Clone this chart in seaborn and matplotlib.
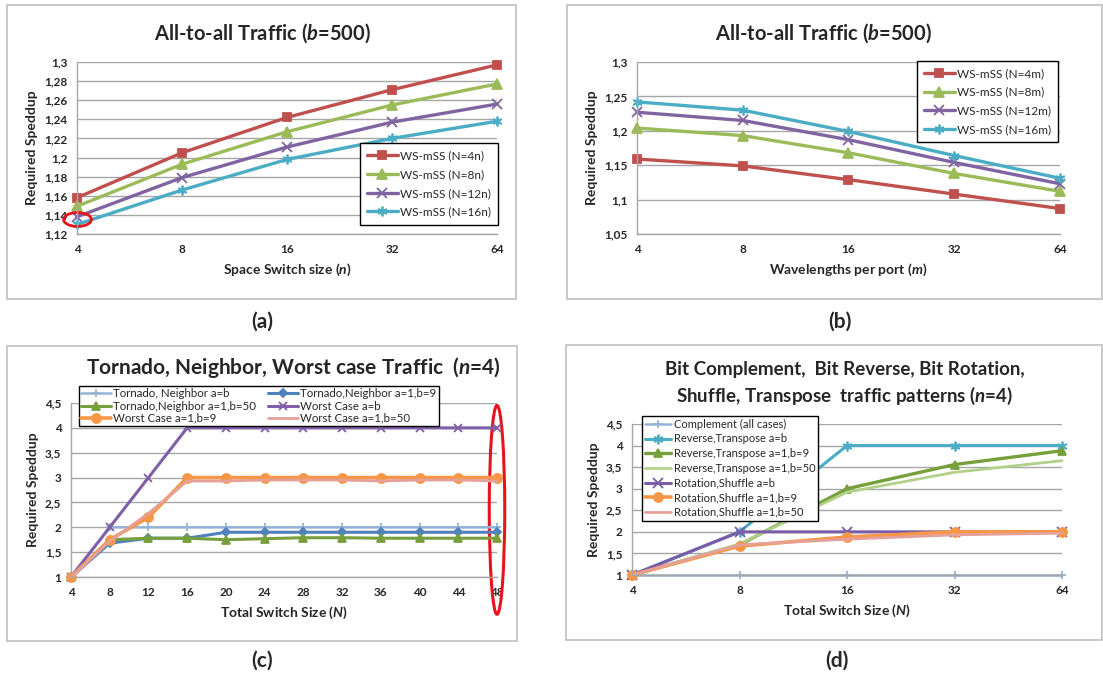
import numpy as np
import matplotlib
matplotlib.use("Agg")
import matplotlib.pyplot as plt
import seaborn as sns
from matplotlib.patches import Ellipse, Rectangle
from matplotlib.path import Path
from matplotlib.transforms import Affine2D
from matplotlib.ticker import FuncFormatter

# ---- data ----
n_sizes = [4, 8, 16, 32, 64]
a_labels = ['WS-mSS (N=4n)', 'WS-mSS (N=8n)', 'WS-mSS (N=12n)', 'WS-mSS (N=16n)']
a_vals = [
    [1.158, 1.205, 1.242, 1.271, 1.297],
    [1.149, 1.193, 1.227, 1.255, 1.277],
    [1.138, 1.179, 1.211, 1.237, 1.256],
    [1.130, 1.166, 1.198, 1.220, 1.238],
]

m_sizes = [4, 8, 16, 32, 64]
b_labels = ['WS-mSS (N=4m)', 'WS-mSS (N=8m)', 'WS-mSS (N=12m)', 'WS-mSS (N=16m)']
b_vals = [
    [1.159, 1.149, 1.129, 1.108, 1.087],
    [1.204, 1.193, 1.168, 1.138, 1.112],
    [1.227, 1.215, 1.187, 1.154, 1.123],
    [1.242, 1.230, 1.199, 1.164, 1.131],
]

c_sizes = [4, 8, 12, 16, 20, 24, 28, 32, 36, 40, 44, 48]
c_labels = ['Tornado, Neighbor a=b', 'Tornado,Neighbor a=1,b=9', 'Tornado,Neighbor a=1,b=50',
            'Worst Case a=b', 'Worst Case a=1,b=9', 'Worst Case a=1,b=50']
c_vals = [
    [1, 2, 2, 2, 2, 2, 2, 2, 2, 2, 2, 2],
    [1, 1.68, 1.78, 1.78, 1.9, 1.9, 1.9, 1.9, 1.9, 1.9, 1.9, 1.9],
    [1, 1.75, 1.78, 1.78, 1.75, 1.77, 1.79, 1.79, 1.78, 1.78, 1.78, 1.78],
    [1, 2, 3, 4, 4, 4, 4, 4, 4, 4, 4, 4],
    [1, 1.75, 2.2, 3, 3, 3, 3, 3, 3, 3, 3, 3],
    [1, 1.72, 2.28, 2.93, 2.93, 2.95, 2.95, 2.95, 2.93, 2.95, 2.95, 2.93],
]

d_sizes = [4, 8, 16, 32, 64]
d_labels = ['Complement (all cases)', 'Reverse,Transpose a=b', 'Reverse,Transpose a=1,b=9',
            'Reverse,Transpose a=1,b=50', 'Rotation,Shuffle a=b', 'Rotation,Shuffle a=1,b=9',
            'Rotation,Shuffle a=1,b=50']
d_vals = [
    [1, 1, 1, 1, 1],
    [1, 2, 4, 4, 4],
    [1, 1.7, 3.0, 3.56, 3.88],
    [1, 1.72, 2.92, 3.38, 3.65],
    [1, 2, 2, 2, 2],
    [1, 1.67, 1.88, 2.0, 2.0],
    [1, 1.7, 1.83, 1.93, 1.97],
]

# ---- style ----
sns.set_style('white')
plt.rcParams['font.family'] = ['Lato', 'DejaVu Sans']
plt.rcParams['font.weight'] = 'bold'
plt.rcParams['mathtext.fontset'] = 'custom'
plt.rcParams['mathtext.it'] = 'Lato:italic:bold'
plt.rcParams['mathtext.rm'] = 'Lato:bold'

W, H = 1103, 675
fig = plt.figure(figsize=(W / 100, H / 100), dpi=100)
fig.patch.set_facecolor('white')

asterisk = (6, 2, 0)
grid_c = '#a6a6a6'
leg_font = {'weight': 'normal'}


def px_axes(l, t, r, b):
    return fig.add_axes([l / W, 1 - b / H, (r - l) / W, (b - t) / H])


def comma(v, pos):
    return ('%g' % round(v, 3)).replace('.', ',')


def style_axes(ax, xlabel, ylabel):
    ax.yaxis.set_major_formatter(FuncFormatter(comma))
    ax.grid(axis='y', color=grid_c, lw=1)
    ax.grid(axis='x', visible=False)
    for s in ['top', 'right']:
        ax.spines[s].set_visible(False)
    for s in ['left', 'bottom']:
        ax.spines[s].set_color(grid_c)
        ax.spines[s].set_linewidth(1)
    ax.tick_params(axis='both', labelsize=8.5, length=3, color=grid_c, pad=4)
    ax.set_xlabel(xlabel, fontsize=10, fontweight='bold', labelpad=5)
    ax.set_ylabel(ylabel, fontsize=10, fontweight='bold', labelpad=4)


def draw(ax, x, ys, labels, colors, markers, lws, mss):
    for y, lab, c, m, lw, ms in zip(ys, labels, colors, markers, lws, mss):
        sns.lineplot(x=x, y=y, ax=ax, color=c, marker=m, lw=lw, ms=ms, mec=c,
                     mew=1.3, label=lab, clip_on=False, legend=False)


# panel frames
for (l, t, r, b) in [(7, 5, 516, 299), (567, 5, 1102, 299), (7, 346, 517, 641), (566, 345, 1102, 640)]:
    fig.add_artist(Rectangle((l / W, 1 - b / H), (r - l) / W, (b - t) / H, transform=fig.transFigure,
                             fill=False, ec='#bfbfbf', lw=1.2))

for txt, x, y in [('(a)', 262, 322), ('(b)', 840, 322), ('(c)', 262, 661), ('(d)', 837, 661)]:
    fig.text(x / W, 1 - y / H, txt, ha='center', va='center', fontsize=15, fontweight='bold')

# ---- (a) ----
ax = px_axes(77, 62, 497, 234)
cols_ab = ['#c0504d', '#9bbb59', '#8064a2', '#4bacc6']
draw(ax, n_sizes, a_vals, a_labels, cols_ab, ['s', '^', 'x', asterisk], [2.4] * 4, [6, 6.5, 6.5, 7])
ax.set_xscale('log', base=2)
ax.set_xlim(4, 64)
ax.set_ylim(1.12, 1.3)
ax.set_yticks(np.arange(1.12, 1.301, 0.02))
ax.set_xticks(n_sizes)
ax.set_xticklabels([str(v) for v in n_sizes])
ax.minorticks_off()
style_axes(ax, 'Space Switch size ($\\mathit{n}$)', 'Required Speddup')
ax.legend(loc='lower right', bbox_to_anchor=(1.017, 0.02), prop=dict(leg_font, size=8.5), frameon=True,
          fancybox=False, edgecolor='black', framealpha=1, handlelength=2.6, labelspacing=0.65,
          borderpad=0.6, handletextpad=0.2)
oval = Path.unit_circle().transformed(Affine2D().scale(1, 0.5))
ax.plot([4], [1.1355], marker=oval, ms=20, mfc='none', mec='#e8141b', mew=2, clip_on=False, ls='none')
fig.text(262 / W, 1 - 33 / H, 'All-to-all Traffic ($\\mathit{b}$=500)', ha='center', va='center',
         fontsize=14.5, fontweight='bold')

# ---- (b) ----
ax = px_axes(637, 62, 1060, 234)
draw(ax, m_sizes, b_vals, b_labels, cols_ab, ['s', '^', 'x', asterisk], [2.4] * 4, [6, 6.5, 6.5, 7])
ax.set_xscale('log', base=2)
ax.set_xlim(4, 64)
ax.set_ylim(1.05, 1.3)
ax.set_yticks(np.arange(1.05, 1.301, 0.05))
ax.set_xticks(m_sizes)
ax.set_xticklabels([str(v) for v in m_sizes])
ax.minorticks_off()
style_axes(ax, 'Wavelengths per port ($\\mathit{m}$)', 'Required Speddup')
ax.legend(loc='upper right', bbox_to_anchor=(1.01, 1.04), prop=dict(leg_font, size=8.5), frameon=True,
          fancybox=False, edgecolor='black', framealpha=1, handlelength=2.6, labelspacing=0.65,
          borderpad=0.6, handletextpad=0.2)
fig.text(823 / W, 1 - 33 / H, 'All-to-all Traffic ($\\mathit{b}$=500)', ha='center', va='center',
         fontsize=14.5, fontweight='bold')

# ---- (c) ----
ax = px_axes(71, 403, 497, 577)
cols_c = ['#95b3d7', '#4f81bd', '#77a03c', '#7f5fa8', '#f79646', '#e6a09a']
draw(ax, c_sizes, c_vals, c_labels, cols_c, ['+', 'D', '^', 'x', 'o', None],
     [1.8, 2.2, 2.2, 2.2, 2.6, 2.0], [6, 4.5, 6, 6, 6.5, 6])
ax.set_xlim(4, 48)
ax.set_ylim(1, 4.5)
ax.set_yticks(np.arange(1, 4.51, 0.5))
ax.set_xticks(c_sizes)
style_axes(ax, 'Total Switch Size ($\\mathit{N}$)', 'Required Speddup')
h, l = ax.get_legend_handles_labels()
order = [0, 2, 4, 1, 3, 5]
ax.legend([h[i] for i in order], [l[i] for i in order], ncol=2, loc='upper left',
          bbox_to_anchor=(0.005, 1.13), prop=dict(leg_font, size=8.3), frameon=True, fancybox=False,
          edgecolor='black', framealpha=1, handlelength=2.6, labelspacing=0.1, borderpad=0.2,
          columnspacing=1.0, handletextpad=0.2)
ax.add_patch(Ellipse((48, 2.35), 1.6, 4.2, fill=False, ec='#e8141b', lw=2.2, clip_on=False))
fig.text(293 / W, 1 - 367 / H, 'Tornado, Neighbor, Worst case Traffic  ($\\mathit{n}$=4)',
         ha='center', va='center', fontsize=15, fontweight='bold')

# ---- (d) ----
ax = px_axes(632, 424, 1062, 575)
cols_d = ['#95b3d7', '#4bacc6', '#77a03c', '#b3d08a', '#7a5ca8', '#f79646', '#e6a09a']
draw(ax, d_sizes, d_vals, d_labels, cols_d, ['+', asterisk, '^', None, 'x', 'o', None],
     [1.8, 2.2, 2.4, 2.0, 2.2, 2.6, 2.0], [6, 7, 6, 6, 6.5, 6.5, 6])
ax.set_xscale('log', base=2)
ax.set_xlim(4, 64)
ax.set_ylim(1, 4.5)
ax.set_yticks(np.arange(1, 4.51, 0.5))
ax.set_xticks(d_sizes)
ax.set_xticklabels([str(v) for v in d_sizes])
ax.minorticks_off()
style_axes(ax, 'Total Switch Size ($\\mathit{N}$)', 'Required Speddup')
ax.legend(loc='upper left', bbox_to_anchor=(0.01, 1.09), prop=dict(leg_font, size=8), frameon=True,
          fancybox=False, edgecolor='black', framealpha=1, handlelength=2.4, labelspacing=0.33,
          borderpad=0.25, handletextpad=0.2)
fig.text(845 / W, 1 - 370 / H, 'Bit Complement,  Bit Reverse, Bit Rotation,', ha='center', va='center',
         fontsize=13.5, fontweight='bold')
fig.text(845 / W, 1 - 396 / H, 'Shuffle, Transpose  traffic patterns ($\\mathit{n}$=4)', ha='center',
         va='center', fontsize=13.5, fontweight='bold')

fig.savefig('out.png', dpi=100, facecolor='white')
